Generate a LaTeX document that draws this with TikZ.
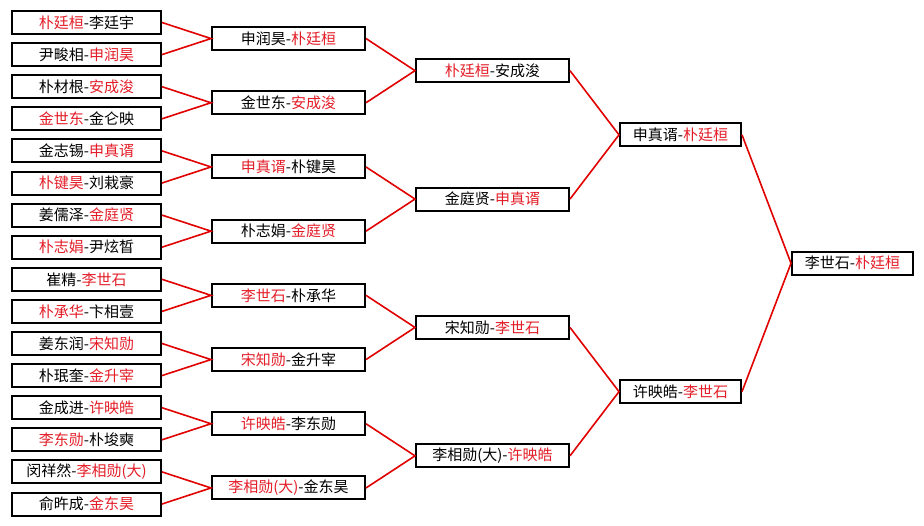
\documentclass[tikz,border=0pt]{standalone}
\usepackage{fontspec}
\newfontfamily\cjk{Noto Sans CJK SC}
\usetikzlibrary{positioning}
\definecolor{winred}{RGB}{228,30,40}
\definecolor{linkred}{RGB}{225,0,0}
\newcommand{\winner}[1]{\textcolor{winred}{#1}}

\begin{document}
\begin{tikzpicture}[x=1pt,y=-1pt,every node/.style={font=\cjk\fontsize{15}{18}\selectfont},
  match/.style={draw,line width=2pt,fill=white,minimum height=23pt,inner sep=0pt},
  wide/.style={match,minimum width=149pt},
  mid/.style={match,minimum width=153pt},
  narrow/.style={match,minimum width=121pt},
  link/.style={draw=linkred,line width=1.6pt}]
\useasboundingbox (0,0) rectangle (924,525);
\node[wide] (a1) at (86.5,22.5) {\winner{朴廷桓}-李廷宇};
\node[wide] (a2) at (86.5,54.6) {尹畯相-\winner{申润昊}};
\node[wide] (a3) at (86.5,86.7) {朴材根-\winner{安成浚}};
\node[wide] (a4) at (86.5,118.8) {\winner{金世东}-金仑映};
\node[wide] (a5) at (86.5,150.9) {金志锡-\winner{申真谞}};
\node[wide] (a6) at (86.5,183.0) {\winner{朴键昊}-刘栽豪};
\node[wide] (a7) at (86.5,215.1) {姜儒泽-\winner{金庭贤}};
\node[wide] (a8) at (86.5,247.2) {\winner{朴志娟}-尹炫晳};
\node[wide] (a9) at (86.5,279.3) {崔精-\winner{李世石}};
\node[wide] (a10) at (86.5,311.4) {\winner{朴承华}-卞相壹};
\node[wide] (a11) at (86.5,343.5) {姜东润-\winner{宋知勋}};
\node[wide] (a12) at (86.5,375.6) {朴珉奎-\winner{金升宰}};
\node[wide] (a13) at (86.5,407.7) {金成进-\winner{许映皓}};
\node[wide] (a14) at (86.5,439.8) {\winner{李东勋}-朴埈奭};
\node[wide] (a15) at (86.5,471.9) {闵祥然-\winner{李相勋(大)}};
\node[wide] (a16) at (86.5,504.0) {俞旿成-\winner{金东昊}};
\node[mid] (b1) at (288.5,38.55) {申润昊-\winner{朴廷桓}};
\node[mid] (b2) at (288.5,102.75) {金世东-\winner{安成浚}};
\node[mid] (b3) at (288.5,166.95) {\winner{申真谞}-朴键昊};
\node[mid] (b4) at (288.5,231.15) {朴志娟-\winner{金庭贤}};
\node[mid] (b5) at (288.5,295.35) {\winner{李世石}-朴承华};
\node[mid] (b6) at (288.5,359.55) {\winner{宋知勋}-金升宰};
\node[mid] (b7) at (288.5,423.75) {\winner{许映皓}-李东勋};
\node[mid] (b8) at (288.5,487.95) {\winner{李相勋(大)}-金东昊};
\node[mid] (c1) at (492.5,70.65) {\winner{朴廷桓}-安成浚};
\node[mid] (c2) at (492.5,199.05) {金庭贤-\winner{申真谞}};
\node[mid] (c3) at (492.5,327.45) {宋知勋-\winner{李世石}};
\node[mid] (c4) at (492.5,455.85) {李相勋(大)-\winner{许映皓}};
\node[narrow] (d1) at (680.5,134.85) {申真谞-\winner{朴廷桓}};
\node[narrow] (d2) at (680.5,391.65) {许映皓-\winner{李世石}};
\node[narrow] (fin) at (852.5,263.25) {李世石-\winner{朴廷桓}};
\draw[link] (a1.east)--(b1.west)--(a2.east);
\draw[link] (a3.east)--(b2.west)--(a4.east);
\draw[link] (a5.east)--(b3.west)--(a6.east);
\draw[link] (a7.east)--(b4.west)--(a8.east);
\draw[link] (a9.east)--(b5.west)--(a10.east);
\draw[link] (a11.east)--(b6.west)--(a12.east);
\draw[link] (a13.east)--(b7.west)--(a14.east);
\draw[link] (a15.east)--(b8.west)--(a16.east);
\draw[link] (b1.east)--(c1.west)--(b2.east);
\draw[link] (b3.east)--(c2.west)--(b4.east);
\draw[link] (b5.east)--(c3.west)--(b6.east);
\draw[link] (b7.east)--(c4.west)--(b8.east);
\draw[link] (c1.east)--(d1.west)--(c2.east);
\draw[link] (c3.east)--(d2.west)--(c4.east);
\draw[link] (d1.east)--(fin.west)--(d2.east);
\end{tikzpicture}
\end{document}
